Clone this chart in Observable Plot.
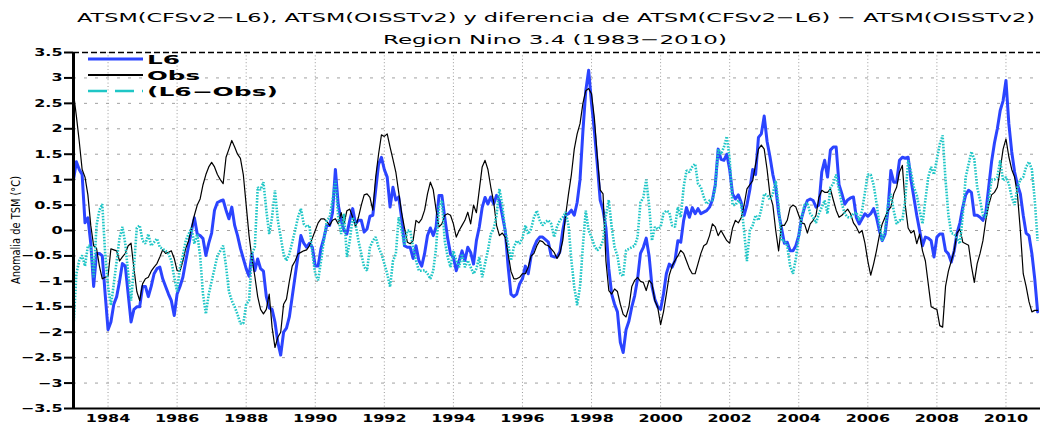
<!DOCTYPE html>
<html><head><meta charset="utf-8">
<script src="https://cdn.jsdelivr.net/npm/d3@7"></script>
<script src="https://cdn.jsdelivr.net/npm/@observablehq/plot@0.6"></script>
<style>
html,body{margin:0;padding:0;background:#fff;}
#wrap{position:relative;width:1040px;height:424px;overflow:hidden;background:#fff;}
#head{height:44px;}
#over{position:absolute;left:0;top:0;pointer-events:none;}
</style></head><body>
<div id="wrap"><div id="head"></div><div id="chart"></div><svg id="over" width="1040" height="424"></svg></div>
<script>
const titleText = "ATSM(CFSv2\u2212L6), ATSM(OISSTv2) y diferencia de ATSM(CFSv2\u2212L6) \u2212 ATSM(OISSTv2)";
const subtitleText = "Region Nino 3.4 (1983\u22122010)";
const yLabelText = "Anomalia de TSM (\u00b0C)";
const seriesNames = ["L6", "Obs", "(L6\u2212Obs)"];
const seriesColors = ["#2b44ff", "#000000", "#1fc6c6"];
const startYear = 1983;
const yearTicks = [1984,1986,1988,1990,1992,1994,1996,1998,2000,2002,2004,2006,2008,2010];
const yTicks = [-3.5,-3,-2.5,-2,-1.5,-1,-0.5,0,0.5,1,1.5,2,2.5,3,3.5];

const l6 = [
1.0,1.35,1.2,1.1,0.15,0.25,-0.25,-1.1,-0.45,-0.45,-0.5,-1.25,
-1.95,-1.8,-1.45,-1.3,-1.0,-0.65,-0.7,-1.25,-1.8,-1.55,-1.5,-1.5,
-1.1,-1.1,-1.3,-1.1,-0.85,-0.75,-0.72,-0.95,-1.1,-1.25,-1.38,-1.67,
-1.25,-1.1,-0.92,-0.6,-0.3,0.0,0.25,-0.07,-0.1,-0.16,-0.49,-0.25,
-0.05,0.4,0.55,0.58,0.6,0.4,0.23,0.46,0.1,-0.1,-0.35,-0.55,
-0.75,-0.9,-0.46,-0.79,-0.56,-0.75,-0.8,-1.3,-1.52,-1.55,-1.8,-2.2,
-2.45,-2.0,-1.92,-1.7,-1.3,-0.9,-0.5,-0.1,-0.25,-0.33,-0.25,-0.33,
-0.7,-0.7,-0.35,-0.15,0.1,0.1,0.35,1.2,0.5,0.2,0.0,-0.07,
0.2,0.43,0.13,0.2,0.2,-0.03,0.03,0.28,0.3,0.8,1.3,1.44,
1.2,1.05,0.46,0.85,0.6,0.66,0.25,-0.3,-0.33,-0.33,-0.55,-0.3,
-0.59,-0.7,-0.45,-0.1,0.05,-0.1,0.07,0.69,0.69,0.25,-0.15,-0.46,
-0.52,-0.79,-0.6,-0.4,-0.59,-0.33,-0.43,-0.66,-0.2,0.07,0.45,0.65,
0.52,0.66,0.52,0.69,0.59,0.3,0.0,-0.7,-1.25,-1.3,-1.25,-1.05,
-0.95,-0.7,-0.85,-0.5,-0.33,-0.2,-0.13,-0.13,-0.18,-0.23,-0.5,-0.52,
-0.52,-0.42,0.0,0.3,0.33,0.4,0.3,0.55,1.0,1.95,2.75,3.15,
2.5,1.95,1.3,0.6,0.4,0.05,-0.75,-1.25,-1.45,-1.6,-2.2,-2.4,
-1.95,-1.78,-1.5,-1.28,-0.95,-0.45,-0.33,-0.15,-0.5,-1.1,-1.35,-1.5,
-1.55,-1.25,-0.85,-0.66,-0.72,-0.59,-0.2,-0.23,0.2,0.45,0.26,0.45,
0.33,0.43,0.33,0.36,0.39,0.46,0.6,0.9,1.6,1.4,1.38,1.5,
1.2,0.72,0.62,0.7,0.55,0.3,0.5,0.8,1.2,1.1,1.83,1.9,
2.25,1.75,1.45,1.1,0.85,0.35,0.05,-0.25,-0.23,-0.4,-0.4,-0.3,
-0.1,0.25,0.45,0.59,0.62,0.59,0.46,0.5,1.15,1.38,1.05,1.58,
1.64,1.64,0.9,0.72,0.52,0.6,0.64,0.66,0.26,0.13,0.23,0.33,
0.28,0.33,0.43,0.26,0.0,-0.2,-0.07,0.4,1.18,0.95,0.95,1.38,
1.44,1.42,1.44,1.0,0.65,0.3,0.0,-0.3,-0.13,-0.15,-0.2,-0.52,
-0.13,-0.07,-0.07,-0.4,-0.46,-0.62,-0.4,-0.05,0.15,0.46,0.7,0.79,
0.75,0.3,0.3,0.26,0.2,0.35,0.85,1.35,1.72,2.0,2.36,2.55,
2.95,2.1,1.55,1.15,0.9,0.72,0.3,-0.05,-0.1,-0.45,-0.95,-1.6
];
const obs = [
2.7,2.25,1.75,1.2,1.05,0.7,0.1,-0.3,-0.35,-0.7,-0.95,-0.92,
-0.9,-0.36,-0.38,-0.4,-0.6,-0.52,-0.45,-0.3,-0.25,-0.75,-1.2,-1.38,
-1.05,-0.95,-0.92,-0.8,-0.72,-0.65,-0.52,-0.38,-0.45,-0.43,-0.4,-0.55,
-0.79,-0.8,-0.6,-0.35,-0.2,0.05,0.3,0.5,0.62,0.9,1.1,1.25,
1.34,1.25,1.1,1.0,0.92,1.44,1.6,1.77,1.64,1.5,1.42,1.1,
0.5,-0.1,-0.55,-0.9,-1.3,-1.55,-1.64,-1.55,-1.25,-1.9,-2.3,-2.1,
-2.0,-1.45,-1.35,-1.0,-0.7,-0.6,-0.46,-0.43,-0.4,-0.38,-0.3,-0.15,
0.0,0.15,0.23,0.23,0.18,0.1,0.2,0.23,0.13,0.35,0.13,0.39,
0.42,0.26,0.07,0.26,0.5,0.7,0.72,0.65,0.4,1.05,1.5,1.88,
1.85,1.9,1.64,1.4,1.15,0.75,0.35,0.05,-0.23,-0.26,-0.2,0.2,
0.15,0.23,0.4,0.72,0.95,0.8,0.4,0.07,0.13,0.3,0.33,0.3,
0.13,-0.13,0.0,0.1,0.2,0.36,0.13,0.5,0.35,0.8,1.25,1.38,
1.2,0.85,0.56,0.1,-0.1,-0.05,-0.13,-0.45,-0.8,-0.95,-0.95,-0.92,
-0.85,-0.85,-0.72,-0.5,-0.45,-0.3,-0.2,-0.22,-0.28,-0.3,-0.36,-0.43,
-0.55,-0.45,-0.2,0.3,0.72,1.1,1.6,1.9,2.1,2.5,2.75,2.79,
2.69,2.2,1.45,0.8,0.72,-0.6,-1.18,-1.25,-1.15,-1.2,-1.45,-1.65,
-1.7,-1.5,-1.1,-0.98,-0.92,-1.0,-1.02,-1.18,-0.98,-1.05,-1.38,-1.51,
-1.85,-1.6,-1.25,-0.88,-0.7,-0.59,-0.5,-0.39,-0.45,-0.6,-0.75,-0.85,
-0.85,-0.65,-0.45,-0.3,-0.26,-0.1,0.13,0.07,-0.1,0.0,-0.1,-0.2,
-0.25,0.05,0.2,0.15,0.25,0.5,0.82,0.9,0.98,1.3,1.6,1.68,
1.6,1.2,0.7,0.5,0.0,-0.4,0.1,0.1,0.2,0.45,0.5,0.46,
0.3,0.15,0.13,-0.05,0.13,0.2,0.3,0.65,0.79,0.75,0.75,0.82,
0.6,0.4,0.26,0.3,0.36,0.42,0.33,0.15,0.07,-0.05,0.0,-0.25,
-0.6,-0.88,-0.66,-0.4,-0.1,0.13,0.26,0.39,0.46,0.72,0.85,1.15,
1.28,0.5,0.05,-0.05,0.0,-0.26,-0.07,-0.4,-0.6,-1.05,-1.5,-1.53,
-1.55,-1.87,-1.9,-1.1,-0.8,-0.6,-0.4,-0.05,0.03,-0.23,-0.26,-0.29,
-0.7,-1.02,-0.65,-0.45,-0.2,0.2,0.5,0.7,0.75,0.85,1.2,1.6,
1.8,1.45,1.2,1.05,0.7,0.0,-0.85,-1.1,-1.4,-1.6,-1.57,-1.57
];
const diff = [
-1.9,-0.85,-0.59,-0.49,-0.7,-0.3,-0.3,-0.92,0.1,0.4,0.52,-0.45,
-1.1,-1.47,-1.05,-0.6,-0.15,0.07,-0.26,-0.85,-1.38,-0.72,0.05,0.1,
-0.2,-0.26,-0.07,-0.3,-0.23,-0.16,-0.33,-0.36,-0.4,-0.46,-0.59,-0.92,
-1.2,-0.72,-0.5,-0.2,-0.07,0.05,-0.26,-0.07,-0.5,-1.25,-1.64,-1.25,
-1.0,-0.75,-0.5,-0.4,-0.3,-0.7,-1.2,-1.38,-1.5,-1.65,-1.83,-1.83,
-1.45,-1.38,-0.46,-0.33,0.85,0.8,0.95,0.4,-0.07,0.26,0.79,0.2,
-0.13,-0.46,-0.59,-0.46,-0.23,0.0,0.26,0.43,0.13,0.07,0.1,-0.46,
-0.85,-0.98,-0.6,-0.2,0.2,0.26,0.59,0.98,0.26,-0.07,0.33,-0.52,
-0.2,0.26,0.13,-0.2,-0.46,-0.72,-0.79,-0.33,-0.2,-0.13,-0.33,-0.46,
-0.65,-0.85,-1.11,-0.6,-0.46,0.26,0.0,-0.3,0.0,0.0,-0.33,-0.59,
-0.79,-0.79,-0.78,-0.85,-0.95,-0.79,-0.33,0.46,0.59,-0.2,-0.52,-0.72,
-0.4,-0.59,-0.72,-0.46,-0.72,-0.59,-0.72,-0.85,-0.75,-0.52,-0.92,-0.65,
-0.39,-0.07,0.03,0.3,0.82,0.5,0.0,-0.26,-0.59,-0.33,-0.2,-0.26,
-0.15,0.1,-0.07,0.03,0.26,0.39,0.2,0.1,0.17,0.2,0.13,-0.13,
0.07,0.2,0.26,0.36,0.1,-0.59,-1.11,-1.47,-1.1,-0.3,0.39,0.0,
-0.13,-0.3,-0.39,-0.33,-0.2,0.3,0.6,0.07,-0.33,-0.5,-0.85,-0.9,
-0.39,-0.36,-0.33,-0.3,-0.13,0.55,0.65,1.0,0.5,-0.2,0.07,0.03,
0.07,0.33,0.39,0.36,0.1,0.07,0.46,0.26,0.85,1.18,1.15,1.25,
1.31,0.92,0.85,0.66,0.52,0.59,0.59,0.85,1.6,1.5,1.64,1.85,
1.4,0.5,0.5,0.59,0.52,0.0,-0.6,0.0,0.1,0.3,0.2,0.42,
0.72,0.7,0.6,0.72,0.98,0.5,-0.2,-0.2,-0.3,-0.7,-0.85,-0.55,
-0.13,0.26,0.5,0.55,0.33,0.26,0.15,0.33,0.46,0.59,0.33,0.85,
0.92,1.1,0.8,0.52,0.33,0.26,0.26,0.33,0.36,0.2,0.39,0.75,
1.1,1.1,0.9,0.55,0.13,-0.2,0.0,0.5,0.72,0.39,0.13,0.2,
0.2,0.6,1.38,1.15,0.85,0.7,0.4,0.13,0.6,1.05,1.25,1.1,
1.4,1.7,1.87,1.0,0.3,-0.05,-0.07,-0.15,-0.26,0.3,1.05,1.3,
1.55,1.4,0.85,0.6,0.3,0.26,0.6,1.0,1.0,1.05,1.38,0.98,
1.05,0.92,0.66,0.5,0.85,1.0,1.05,1.25,1.35,1.2,0.6,-0.2
];

const rows = l6.map((v, i) => ({t: startYear + i / 12, l6: v, obs: obs[i], diff: diff[i]}));
const fmtY = d => (d < 0 ? "\u2212" : "") + Math.abs(d);

const plot = Plot.plot({
  width: 1040, height: 380,
  marginTop: 8, marginBottom: 16, marginLeft: 73, marginRight: 0,
  x: {domain: [1983, 2011]},
  y: {domain: [-3.5, 3.5]},
  style: {fontFamily: "DejaVu Sans", fontSize: "11px", fontWeight: "bold", color: "#000", background: "#fff"},
  marks: [
    Plot.gridX(yearTicks, {stroke: "#9a9a9a", strokeOpacity: 1, strokeDasharray: "1,2.4", strokeWidth: 1}),
    Plot.gridY(yTicks.filter(v => v > -3.5 && v < 3.5), {stroke: "#a0a0a0", strokeOpacity: 1, strokeDasharray: "3,8", strokeWidth: 1}),
    Plot.ruleY([3.5], {stroke: "#000", strokeDasharray: "6,3", strokeWidth: 1.5}),
    Plot.ruleY([-3.5], {stroke: "#000", strokeWidth: 2}),
    Plot.line(rows, {x: "t", y: "l6", stroke: seriesColors[0], strokeWidth: 3, clip: true}),
    Plot.line(rows, {x: "t", y: "obs", stroke: seriesColors[1], strokeWidth: 1.2, clip: true}),
    Plot.line(rows, {x: "t", y: "diff", stroke: seriesColors[2], strokeWidth: 2.6, strokeDasharray: "1.6,1.4", strokeLinecap: "butt", strokeLinejoin: "miter", clip: true}),
    Plot.axisX(yearTicks, {tickSize: 0, tickPadding: 6, tickFormat: d => String(d), label: null}),
    Plot.axisY(yTicks, {tickSize: 9, tickPadding: 2, strokeWidth: 2, tickFormat: fmtY, label: null}),
    Plot.ruleX([1983], {stroke: "#000", strokeWidth: 3})
  ]
});
document.getElementById("chart").appendChild(plot);

// widen tick labels like the original
plot.querySelectorAll('g[aria-label="x-axis tick label"] text, g[aria-label="y-axis tick label"] text').forEach(t => {
  const w = t.getComputedTextLength();
  t.setAttribute("textLength", (w * 1.45).toFixed(1));
  t.setAttribute("lengthAdjust", "spacingAndGlyphs");
});

const over = d3.select("#over");
over.append("text").attr("x", 556).attr("y", 22).attr("text-anchor", "middle")
  .attr("font-family", "DejaVu Sans").attr("font-size", 13)
  .attr("textLength", 958).attr("lengthAdjust", "spacingAndGlyphs").text(titleText);
over.append("text").attr("x", 555).attr("y", 44).attr("text-anchor", "middle")
  .attr("font-family", "DejaVu Sans").attr("font-size", 13)
  .attr("textLength", 344).attr("lengthAdjust", "spacingAndGlyphs").text(subtitleText);
over.append("text").attr("transform", "translate(20,230) rotate(-90)").attr("text-anchor", "middle")
  .attr("font-family", "DejaVu Sans").attr("font-size", 13)
  .attr("textLength", 108).attr("lengthAdjust", "spacingAndGlyphs").text(yLabelText);

const legY = [59, 75, 91];
const legW = [33, 53, 131];
const legWidth = [3, 2, 2.6];
const legDash = [null, null, "19,8"];
seriesNames.forEach((name, k) => {
  const ln = over.append("line").attr("x1", 88).attr("x2", 143).attr("y1", legY[k]).attr("y2", legY[k])
    .attr("stroke", seriesColors[k]).attr("stroke-width", legWidth[k]);
  if (legDash[k]) ln.attr("stroke-dasharray", legDash[k]);
  over.append("text").attr("x", 147).attr("y", legY[k] + 5)
    .attr("font-family", "DejaVu Sans").attr("font-weight", "bold").attr("font-size", 12)
    .attr("textLength", legW[k]).attr("lengthAdjust", "spacingAndGlyphs").text(name);
});
</script>
</body></html>
